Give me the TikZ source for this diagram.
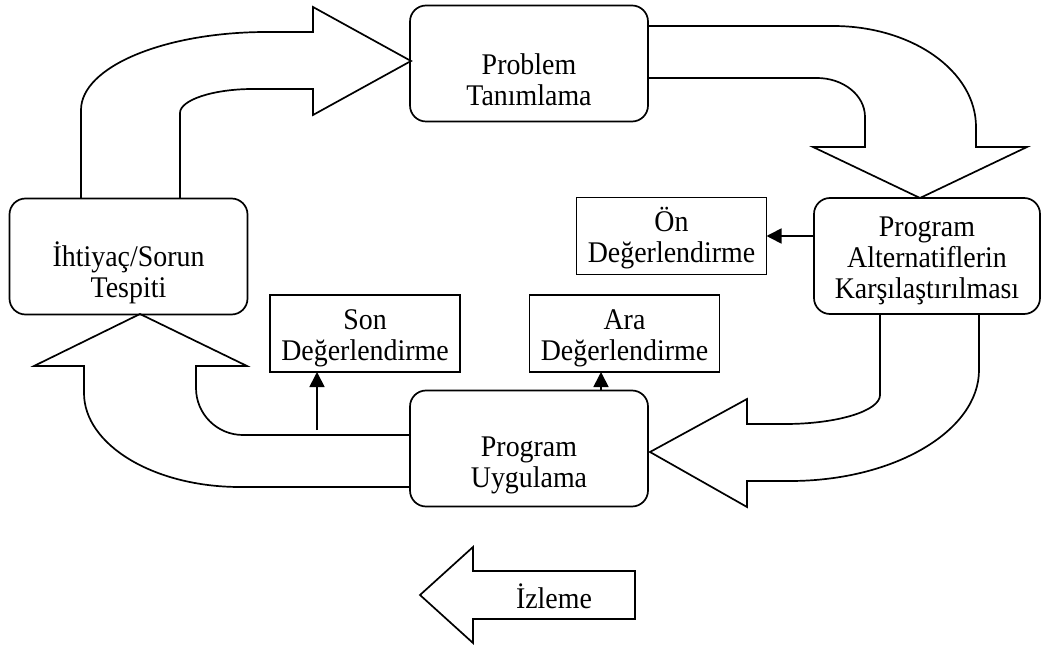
\documentclass[tikz,border=0pt]{standalone}
\usepackage{fontspec}
\setmainfont[FakeStretch=0.93]{Liberation Serif}
\usetikzlibrary{arrows.meta}
\newcommand{\linetop}{\rule{0pt}{14.5pt}}

\begin{document}
\begin{tikzpicture}[x=0.5pt, y=-0.5pt, line width=0.85pt,
    every node/.style={inner sep=0pt, outer sep=0pt, align=center, font=\fontsize{15pt}{15.5pt}\selectfont},
    stage/.style={draw, rounded corners=8pt, minimum width=119pt, minimum height=58pt},
    evalbox/.style={draw, minimum width=95pt, minimum height=38.5pt},
    bigarrow/.style={draw},
    evalarrow/.style={-{Triangle[length=7.5pt,width=7.5pt]}}]
    \useasboundingbox (0,0) rectangle (1042,646);

    \node[stage] (ihtiyac) at (128.5,256.5) {\strut\\İhtiyaç/Sorun\\Tespiti};
    \node[stage] (problem) at (529,63.5) {\strut\\Problem\\Tanımlama};
    \node[stage, minimum width=113pt] (alternatif) at (927,256) {\linetop Program\\Alternatiflerin\\Karşılaştırılması};
    \node[stage] (uygulama) at (529,448.5) {\strut\\Program\\Uygulama};
    \node[evalbox] (on) at (671.5,236) {\linetop Ön\\Değerlendirme};
    \node[evalbox] (son) at (365,333.5) {\linetop Son\\Değerlendirme};
    \node[evalbox] (ara) at (624.5,333.5) {\linetop Ara\\Değerlendirme};
    \node (izleme) at (554,596) {İzleme};

    % ihtiyac -> problem
    \draw[bigarrow] (81,199) -- (81,110) .. controls (81,67) and (164,32) .. (267,32)
        -- (313,32) -- (313,7) -- (411,61) -- (313,115) -- (313,89) -- (253,89)
        .. controls (213,89) and (180,100) .. (180,113) -- (180,199);
    % problem -> alternatif
    \draw[bigarrow] (648,26) -- (833,26) .. controls (912,26) and (976,71) .. (976,127)
        -- (976,147) -- (1027,147) -- (920,198) -- (813,147) -- (865,147) -- (865,117)
        .. controls (865,95) and (843,78) .. (817,78) -- (648,78);
    % alternatif -> uygulama
    \draw[bigarrow] (880,314) -- (880,395) .. controls (880,411) and (837,424) .. (785,424)
        -- (747,424) -- (747,399) -- (650,452) -- (747,507) -- (747,481) -- (790,481)
        .. controls (894,481) and (979,431) .. (979,370) -- (979,314);
    % uygulama -> ihtiyac
    \draw[bigarrow] (410,435) -- (243,435) .. controls (217,435) and (196,414) .. (196,388)
        -- (196,366) -- (247,366) -- (140,314) -- (34,366) -- (84,366) -- (84,393)
        .. controls (84,445) and (154,487) .. (240,487) -- (410,487);
    % izleme
    \draw[bigarrow] (635,571) -- (473,571) -- (473,547) -- (420,595) -- (473,643)
        -- (473,619) -- (635,619) -- cycle;

    \draw[evalarrow] (alternatif.west |- on.east) -- (on.east);
    \coordinate (sonfoot) at (317,430);
    \draw[evalarrow] (sonfoot) -- (sonfoot |- son.south);
    \coordinate (arafoot) at (601,390);
    \draw[evalarrow] (arafoot) -- (arafoot |- ara.south);
\end{tikzpicture}
\end{document}
